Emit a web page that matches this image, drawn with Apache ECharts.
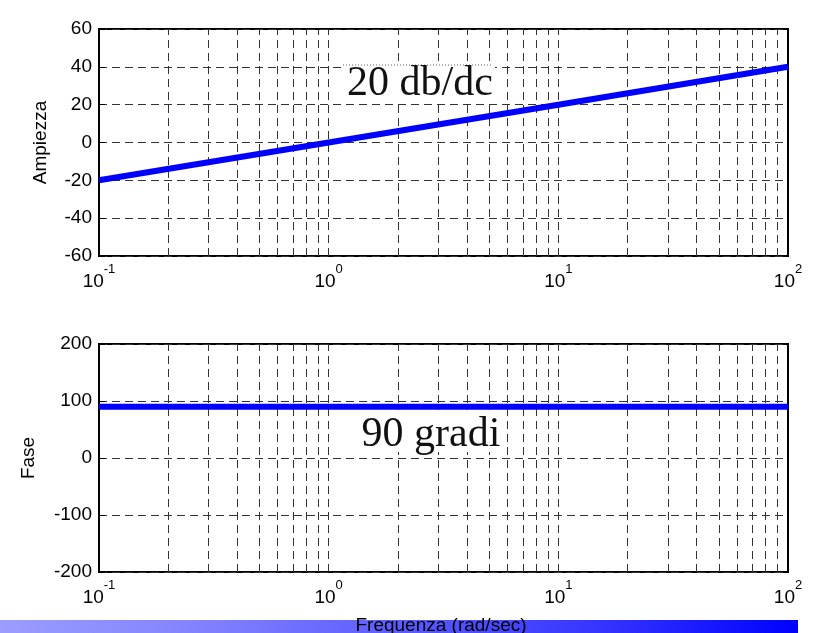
<!DOCTYPE html>
<html><head><meta charset="utf-8">
<script src="https://cdn.jsdelivr.net/npm/echarts@6/dist/echarts.min.js"></script>
<style>html,body{margin:0;padding:0;background:#fff}#c{width:821px;height:633px}</style>
</head><body><div id="c"></div>
<script>
// Data
const freqMag = [0.1, 1, 10, 100];
const magnitude = [-20, 0, 20, 40];
const freqPhase = [0.1, 100];
const phase = [90, 90];
const minorGrid = [0.2,0.3,0.4,0.5,0.6,0.7,0.8,0.9, 1, 2,3,4,5,6,7,8,9, 10, 20,30,40,50,60,70,80,90];
const magTicks = [-60,-40,-20,0,20,40,60];
const phaseTicks = [-200,-100,0,100,200];

const chart = echarts.init(document.getElementById('c'));
const font = '"Liberation Sans", Arial, sans-serif';
const gridStyle = {color:'#333', width:1, type:[8,5]};

function xAxisCfg(idx){
  return {
    type:'log', logBase:10, min:0.1, max:100, gridIndex:idx,
    axisLine:{show:false}, axisTick:{show:false},
    splitLine:{show:false},
    axisLabel:{
      margin:7,
      formatter:function(v){const e=Math.round(Math.log10(v)); return '{b|10}{s|'+e+'}';},
      rich:{b:{fontFamily:font,fontSize:19,color:'#000'},s:{fontFamily:font,fontSize:13,color:'#000',padding:[0,0,24,0]}}
    }
  };
}
function yAxisCfg(idx,min,max,interval,name,gap){
  return {
    type:'value', gridIndex:idx, min:min, max:max, interval:interval,
    name:name, nameLocation:'middle', nameGap:gap, nameRotate:90,
    nameTextStyle:{fontFamily:font,fontSize:19,color:'#000'},
    axisLine:{show:false}, axisTick:{show:true, inside:true, length:6, lineStyle:{color:'#000'}},
    splitLine:{show:true, lineStyle:gridStyle},
    axisLabel:{fontFamily:font,fontSize:19,color:'#000',margin:7}
  };
}
function vlines(){
  return {
    silent:true, symbol:['none','none'], label:{show:false},
    lineStyle:gridStyle, animation:false,
    data: minorGrid.map(v=>({xAxis:v}))
  };
}

chart.setOption({
  animation:false,
  grid:[
    {left:99, top:29, width:689, height:227, show:true, borderColor:'#000', borderWidth:2, backgroundColor:'transparent'},
    {left:99, top:344, width:689, height:228, show:true, borderColor:'#000', borderWidth:2, backgroundColor:'transparent'}
  ],
  xAxis:[xAxisCfg(0), xAxisCfg(1)],
  yAxis:[yAxisCfg(0,-60,60,20,'Ampiezza',49), yAxisCfg(1,-200,200,100,'Fase',61)],
  series:[
    {type:'line', xAxisIndex:0, yAxisIndex:0, data:[], z:1, markLine:vlines()},
    {type:'line', xAxisIndex:1, yAxisIndex:1, data:[], z:1, markLine:vlines()},
    {type:'line', xAxisIndex:0, yAxisIndex:0, z:5, symbol:'none',
      lineStyle:{color:'#0000ff', width:6},
      data: freqMag.map((f,i)=>[f, magnitude[i]])},
    {type:'line', xAxisIndex:1, yAxisIndex:1, z:5, symbol:'none',
      lineStyle:{color:'#0000ff', width:6},
      data: freqPhase.map((f,i)=>[f, phase[i]])}
  ],
  graphic:[
    {type:'rect', shape:{x:343,y:64,width:152,height:36}, style:{fill:'#fff'}, z:10},
    {type:'line', shape:{x1:343,y1:65,x2:493,y2:65}, style:{stroke:'#666', lineWidth:1, lineDash:[1,2]}, z:11},
    {type:'text', x:420, y:84, style:{text:'20 db/dc', font:'42px "Liberation Serif", "Times New Roman", serif', fill:'#111', align:'center', verticalAlign:'middle'}, z:11},
    {type:'rect', shape:{x:358,y:410,width:146,height:42}, style:{fill:'#fff'}, z:10},
    {type:'text', x:431, y:435, style:{text:'90 gradi', font:'42px "Liberation Serif", "Times New Roman", serif', fill:'#111', align:'center', verticalAlign:'middle'}, z:11},
    {type:'rect', shape:{x:0,y:620,width:798,height:13}, style:{fill:new echarts.graphic.LinearGradient(0,0,1,0,[{offset:0,color:'#9c9cff'},{offset:0.25,color:'#8282ff'},{offset:0.75,color:'#3535ff'},{offset:1,color:'#0000ff'}])}, z:10},
    {type:'text', x:441, y:626, style:{text:'Frequenza (rad/sec)', font:'19px "Liberation Sans", Arial, sans-serif', fill:'#000', align:'center', verticalAlign:'middle'}, z:11}
  ]
});
</script></body></html>
